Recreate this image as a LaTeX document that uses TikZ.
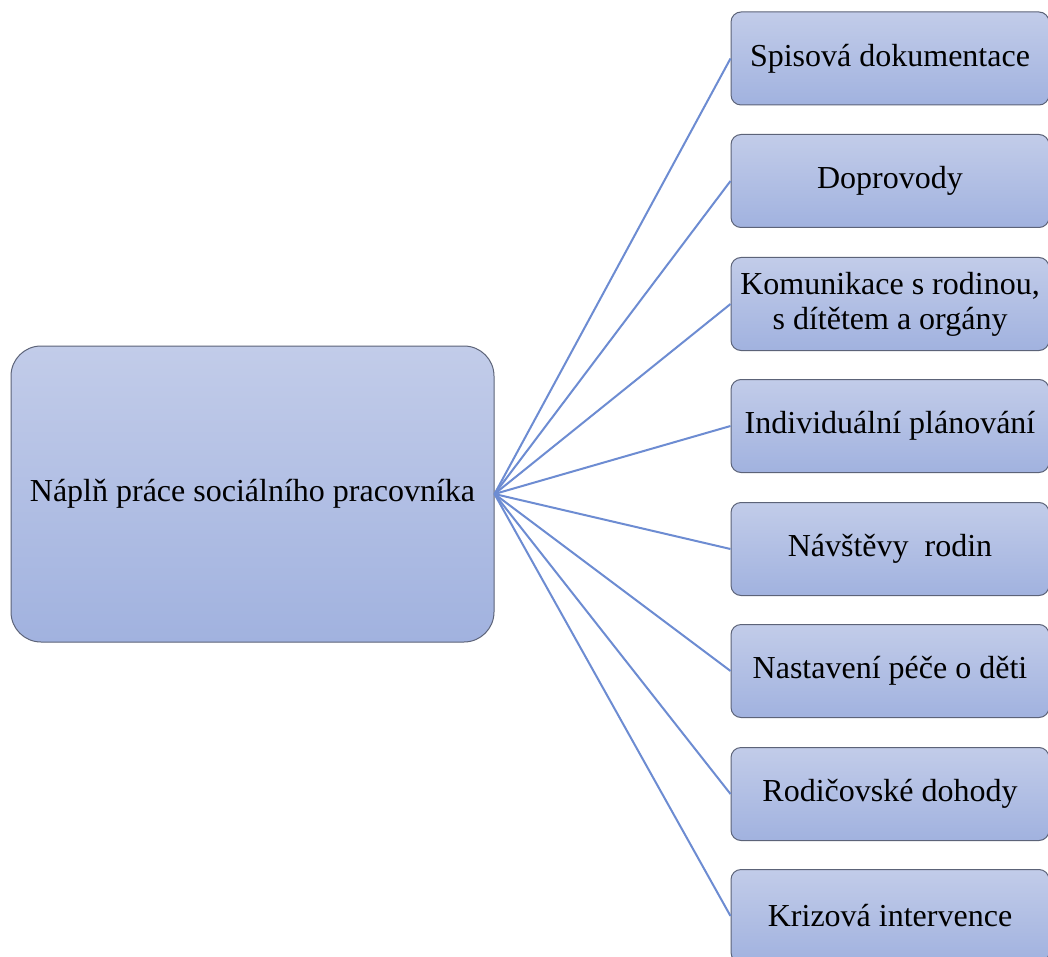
\documentclass[tikz,border=0pt]{standalone}
\usepackage{fontspec}
\setmainfont{Liberation Serif}
\usetikzlibrary{shapes,backgrounds}

\definecolor{boxtop}{HTML}{C2CCE9}
\definecolor{boxbot}{HTML}{A1B2DF}
\definecolor{boxline}{HTML}{5C6378}
\definecolor{linkblue}{HTML}{6D8CD2}

\begin{document}
\begin{tikzpicture}[x=1pt,y=-1pt,
  mainbox/.style={draw=boxline,line width=1pt,top color=boxtop,bottom color=boxbot,
    rounded corners=30pt,minimum width=483pt,minimum height=296pt,inner sep=0pt,
    font=\fontsize{32}{36}\selectfont},
  taskbox/.style={draw=boxline,line width=1pt,top color=boxtop,bottom color=boxbot,
    rounded corners=10pt,minimum width=318pt,minimum height=93pt,inner sep=0pt,
    align=center,font=\fontsize{32}{35}\selectfont},
  link/.style={draw=linkblue,line width=2pt}]
\clip (0,0) rectangle (1048,957);
\fill[white] (0,0) rectangle (1048,957);
\node[mainbox] (main) at (252.5,494) {Náplň práce sociálního pracovníka};
\node[taskbox] (t1) at (890,58.5) {Spisová dokumentace};
\node[taskbox] (t2) at (890,181) {Doprovody};
\node[taskbox] (t3) at (890,304) {Komunikace s rodinou,\\s dítětem a orgány};
\node[taskbox] (t4) at (890,426) {Individuální plánování};
\node[taskbox] (t5) at (890,549) {Návštěvy\ \ rodin};
\node[taskbox] (t6) at (890,671) {Nastavení péče o děti};
\node[taskbox] (t7) at (890,794) {Rodičovské dohody};
\node[taskbox] (t8) at (890,916) {Krizová intervence};
\draw[link] (main.east) -- (t1.west);
\draw[link] (main.east) -- (t2.west);
\draw[link] (main.east) -- (t3.west);
\draw[link] (main.east) -- (t4.west);
\draw[link] (main.east) -- (t5.west);
\draw[link] (main.east) -- (t6.west);
\draw[link] (main.east) -- (t7.west);
\draw[link] (main.east) -- (t8.west);
\end{tikzpicture}
\end{document}
